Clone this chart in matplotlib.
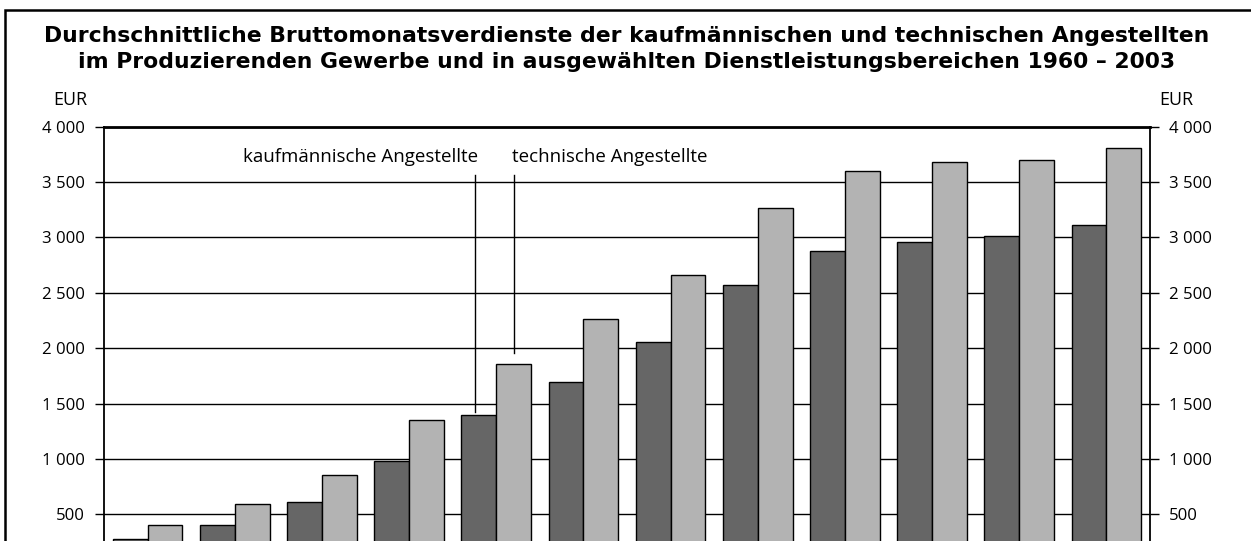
import numpy as np
import matplotlib
matplotlib.use("Agg")
import matplotlib.pyplot as plt
from matplotlib.patches import Rectangle

plt.rcParams['font.family'] = ['Open Sans', 'DejaVu Sans']

# data (EUR per month)
years = ['1960', '1965', '1970', '1975', '1980', '1985', '1990', '1995',
         '2000', '2001', '2002', '2003']
kaufm = [277, 406, 609, 979, 1400, 1695, 2054, 2574, 2881, 2957, 3011, 3110]
techn = [406, 591, 852, 1352, 1855, 2262, 2659, 3269, 3600, 3684, 3702, 3811]
yticks = [500, 1000, 1500, 2000, 2500, 3000, 3500, 4000]
ytick_labels = ['500', '1 000', '1 500', '2 000', '2 500', '3 000', '3 500', '4 000']
title1 = 'Durchschnittliche Bruttomonatsverdienste der kaufmännischen und technischen Angestellten'
title2 = 'im Produzierenden Gewerbe und in ausgewählten Dienstleistungsbereichen 1960 – 2003'

W, H = 1251, 541
fig = plt.figure(figsize=(W / 100, H / 100), dpi=100)
r = fig.canvas.get_renderer()


def fit(txt, width_px):
    # scale a text so that it is about as wide as in the reference
    w0 = txt.get_window_extent(r).width
    txt.set_fontsize(txt.get_fontsize() * width_px / w0)
    return txt.get_fontsize()


def px(xp, yp):
    return xp / W, 1 - yp / H


# outer frame (cut off on the right and at the bottom like the reference)
fig.patches.append(Rectangle((5 / W, -0.2), 1.2, 1 - 9.5 / H + 0.2,
                             transform=fig.transFigure, fill=False,
                             edgecolor='black', linewidth=1.8))

t1 = fig.text(*px(627, 42), title1, ha='center', va='baseline', fontsize=15,
              fontweight='bold', family='DejaVu Sans')
tsize = fit(t1, 1165)
fig.text(*px(627, 68), title2, ha='center', va='baseline', fontsize=tsize,
         fontweight='bold', family='DejaVu Sans')

# plot area: 4000 sits at y=126.7px, 0 would be below the picture edge
left, right = 104, 1150
top, zero = 126.7, 569.7
ax = fig.add_axes([left / W, 1 - zero / H, (right - left) / W, (zero - top) / H])

x = np.arange(len(years))
w = 0.4
ax.bar(x - w / 2, kaufm, w, color='#666666', edgecolor='black', linewidth=1, zorder=3)
ax.bar(x + w / 2, techn, w, color='#b3b3b3', edgecolor='black', linewidth=1, zorder=3)

ax.set_xlim(-0.5, len(years) - 0.5)
ax.set_ylim(0, 4000)
ax.set_xticks([])

probe = fig.text(0, 0, '1 000', fontsize=12)
lsize = fit(probe, 43)
probe.remove()

ax.set_yticks(yticks)
ax.set_yticklabels(ytick_labels)
ax.tick_params(axis='y', direction='out', length=6.5, width=1, pad=7.2,
               labelsize=lsize, left=True, right=True, labelleft=True, labelright=True)
ax.yaxis.grid(True, color='black', linewidth=1)
ax.set_axisbelow(True)

for s in ['left', 'right']:
    ax.spines[s].set_linewidth(1.3)
ax.spines['top'].set_linewidth(2)
ax.spines['bottom'].set_visible(False)

# annotations
ax.plot([3.76, 3.76], [3565, 1427], color='black', linewidth=1, zorder=4)
ax.plot([4.2, 4.2], [3565, 1960], color='black', linewidth=1, zorder=4)
k = ax.text(3.79, 3684, 'kaufmännische Angestellte', ha='right', va='baseline', fontsize=13)
asize = fit(k, 234)
ax.text(4.185, 3684, 'technische Angestellte', ha='left', va='baseline', fontsize=asize)

e = fig.text(*px(87, 105), 'EUR', ha='right', va='baseline', fontsize=12)
esize = fit(e, 34)
fig.text(*px(1159, 105), 'EUR', ha='left', va='baseline', fontsize=esize)

fig.savefig('out.png', dpi=100)
